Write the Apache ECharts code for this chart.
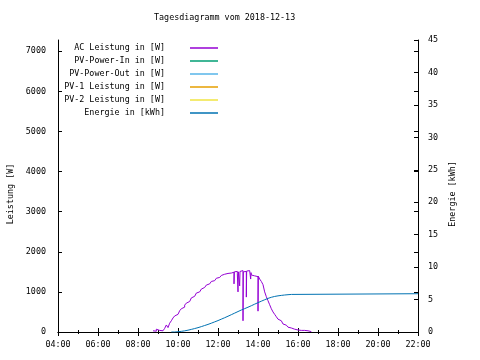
<!DOCTYPE html>
<html>
<head>
<meta charset="utf-8">
<script src="https://cdn.jsdelivr.net/npm/echarts@6/dist/echarts.min.js"></script>
<style>
html,body{margin:0;padding:0;background:#fff;}
#chart{width:480px;height:360px;}
</style>
</head>
<body>
<div id="chart"></div>
<script>
var titleText = 'Tagesdiagramm vom 2018-12-13';
var seriesNames = ['AC Leistung in [W]', 'PV-Power-In in [W]', 'PV-Power-Out in [W]', 'PV-1 Leistung in [W]', 'PV-2 Leistung in [W]', 'Energie in [kWh]'];
var seriesColors = ['#9400d3', '#009e73', '#56b4e9', '#e69f00', '#f0e442', '#0072b2'];

var acTimes = ['08:45','08:50','08:55','09:00','09:05','09:10','09:15','09:20','09:25','09:30','09:35','09:40','09:45','09:50','09:55',
  '10:00','10:05','10:10','10:15','10:20','10:25','10:30','10:35','10:40','10:45','10:50','10:55',
  '11:00','11:05','11:10','11:15','11:20','11:25','11:30','11:35','11:40','11:45','11:50','11:55',
  '12:00','12:05','12:10','12:15','12:20','12:25','12:30','12:35','12:40','12:45','12:48','12:49','12:50','12:55','12:58',
  '13:00','13:01','13:02','13:05','13:06','13:07','13:10','13:15','13:16','13:17','13:20','13:25','13:26','13:27','13:30','13:35','13:38','13:39','13:40','13:45','13:50','13:55',
  '14:00','14:01','14:02','14:05','14:10','14:15','14:20','14:25','14:30','14:35','14:40','14:45','14:50','14:55',
  '15:00','15:05','15:10','15:15','15:20','15:25','15:30','15:35','15:40','15:45','15:50','15:55',
  '16:00','16:05','16:10','16:15','16:20','16:25','16:30','16:35','16:40'];
var acWatts = [30,60,20,70,40,80,30,60,90,175,110,220,280,350,400,
  440,470,530,580,620,670,720,760,800,850,890,930,
  970,1000,1040,1070,1110,1140,1170,1200,1230,1260,1280,1300,
  1340,1360,1390,1410,1440,1450,1460,1465,1470,1480,1490,1200,1500,1480,1510,
  1450,1000,1500,1520,1150,1510,1500,1530,280,1500,1540,1510,870,1520,1510,1530,1500,1320,1480,1420,1400,1390,
  1380,520,1390,1370,1320,1260,1180,1000,880,780,680,580,500,440,
  380,320,280,240,200,170,140,120,100,80,70,90,
  50,60,40,30,40,20,30,10,10];

var energyTimes = ['09:40','09:50','10:00','10:10','10:20','10:30','10:40','10:50','11:00','11:10','11:20','11:30','11:40','11:50',
  '12:00','12:10','12:20','12:30','12:40','12:50','13:00','13:10','13:20','13:30','13:40','13:50',
  '14:00','14:10','14:20','14:30','14:40','14:50','15:00','15:10','15:20','15:30','15:40','22:00'];
var energyKWh = [0.00,0.04,0.10,0.18,0.28,0.40,0.53,0.67,0.83,1.00,1.17,1.36,1.56,1.76,
  1.98,2.20,2.43,2.67,2.91,3.15,3.39,3.60,3.82,4.05,4.29,4.52,
  4.75,4.97,5.18,5.35,5.48,5.57,5.64,5.70,5.75,5.79,5.90,5.90];

function toHours(t) { var p = t.split(':'); return +p[0] + (+p[1]) / 60; }
function pairs(ts, vs) { return ts.map(function (t, i) { return [toHours(t), vs[i]]; }); }

var FONT = 'DejaVu Sans Mono';
var FS = 8.4;

var chart = echarts.init(document.getElementById('chart'), null, {renderer: 'canvas'});

var lineStyleAxis = {color: '#000', width: 1};

var series = seriesNames.map(function (name, i) {
  var s = {
    name: name,
    type: 'line',
    showSymbol: false,
    symbol: 'none',
    color: seriesColors[i],
    lineStyle: {width: 1, color: seriesColors[i]},
    xAxisIndex: 0,
    yAxisIndex: 0,
    data: []
  };
  if (i === 0) { s.data = pairs(acTimes, acWatts); s.step = 'start'; }
  if (i === 5) { s.data = pairs(energyTimes, energyKWh); s.step = 'end'; s.yAxisIndex = 1; }
  return s;
});

chart.setOption({
  animation: false,
  backgroundColor: '#fff',
  textStyle: {fontFamily: FONT, fontSize: FS, color: '#000'},
  title: {
    text: titleText,
    left: 154, top: 14, padding: 0,
    textStyle: {fontFamily: FONT, fontSize: FS, fontWeight: 'normal', color: '#000'}
  },
  legend: {
    orient: 'vertical',
    right: 262, top: 43, padding: 0,
    align: 'right',
    itemWidth: 28, itemHeight: 1.5, itemGap: 3,
    icon: 'rect',
    data: seriesNames,
    textStyle: {fontFamily: FONT, fontSize: FS, color: '#000', lineHeight: 10, padding: [0, 20, 0, 0]}
  },
  grid: {left: 58, right: 62, top: 40, bottom: 28, containLabel: false, outerBoundsMode: 'none'},
  xAxis: [{
    type: 'value', min: 4, max: 22, interval: 2, position: 'bottom',
    axisLine: {show: true, lineStyle: lineStyleAxis},
    axisTick: {show: true, inside: true, length: 4, lineStyle: lineStyleAxis},
    minorTick: {show: true, splitNumber: 2, length: 2, lineStyle: lineStyleAxis},
    splitLine: {show: false},
    axisLabel: {margin: 9, fontFamily: FONT, fontSize: FS, color: '#000',
      formatter: function (v) { return (v < 10 ? '0' : '') + v + ':00'; }}
  }, {
    type: 'value', min: 4, max: 22, interval: 2, position: 'top',
    axisLine: {show: true, lineStyle: lineStyleAxis},
    axisTick: {show: true, inside: true, length: 4, lineStyle: lineStyleAxis},
    minorTick: {show: true, splitNumber: 2, length: 2, lineStyle: lineStyleAxis},
    splitLine: {show: false},
    axisLabel: {show: false}
  }],
  yAxis: [{
    type: 'value', min: 0, max: 7280, interval: 1000, position: 'left',
    name: 'Leistung [W]', nameLocation: 'middle', nameGap: 41,
    nameTextStyle: {fontFamily: FONT, fontSize: FS, color: '#000', padding: [0, 16, 0, 0]},
    axisLine: {show: true, lineStyle: lineStyleAxis},
    axisTick: {show: true, inside: true, length: 4, lineStyle: lineStyleAxis},
    splitLine: {show: false},
    axisLabel: {margin: 12, fontFamily: FONT, fontSize: FS, color: '#000',
      showMaxLabel: false, formatter: function (v) { return String(v); }}
  }, {
    type: 'value', min: 0, max: 45, interval: 5, position: 'right',
    name: 'Energie [kWh]', nameLocation: 'middle', nameGap: 29,
    nameTextStyle: {fontFamily: FONT, fontSize: FS, color: '#000', padding: [0, 16, 0, 0]},
    axisLine: {show: true, lineStyle: lineStyleAxis},
    axisTick: {show: true, inside: true, length: 4, lineStyle: lineStyleAxis},
    splitLine: {show: false},
    axisLabel: {margin: 10, fontFamily: FONT, fontSize: FS, color: '#000'}
  }, {
    type: 'value', min: 0, max: 7280, interval: 1000, position: 'right',
    axisLine: {show: false},
    axisTick: {show: true, inside: true, length: 4, lineStyle: lineStyleAxis},
    splitLine: {show: false},
    axisLabel: {show: false}
  }],
  series: series
});
</script>
</body>
</html>
